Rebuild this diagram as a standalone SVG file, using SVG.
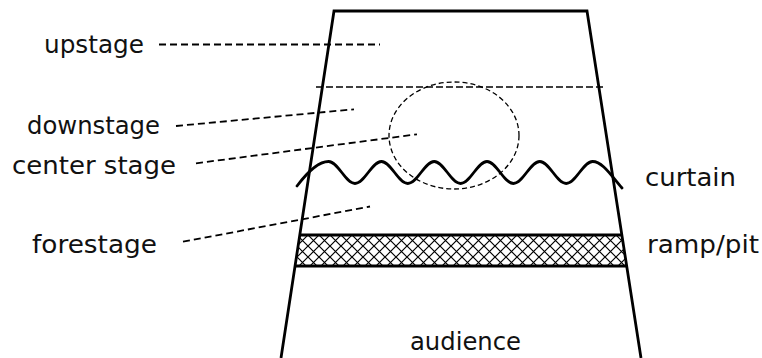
<svg xmlns="http://www.w3.org/2000/svg" width="762" height="358" viewBox="0 0 762 358">
<style>
.outline{fill:none;stroke:#000;stroke-width:2.8;stroke-linejoin:miter}
.band{stroke:#000;stroke-width:2.8}
.lead{fill:none;stroke:#000;stroke-width:1.8;stroke-dasharray:7,4}
.thin{fill:none;stroke:#000;stroke-width:1.3;stroke-dasharray:7,3}
.ell{fill:none;stroke:#000;stroke-width:1.3;stroke-dasharray:5,3}
.wave{fill:none;stroke:#000;stroke-width:2.8;stroke-linecap:round}
.lbl{font-family:"DejaVu Sans",sans-serif;font-size:24px;fill:#111}
</style>
<defs>
<pattern id="hatch" patternUnits="userSpaceOnUse" width="11" height="11" x="0" y="235">
<path d="M0,0 L11,11 M11,0 L0,11" stroke="#000" stroke-width="1.2"/>
</pattern>
</defs>
<rect width="762" height="358" fill="#fff"/>
<g id="stage">
<path class="outline" d="M281,358 L334,11 L587,11 L641,358"/>
</g>
<g id="ramp-pit">
<polygon points="299.8,235 621.8,235 626.7,266 295.1,266" fill="url(#hatch)"/>
<line class="band" x1="299.8" y1="235" x2="621.8" y2="235"/>
<line class="band" x1="295.1" y1="266" x2="626.7" y2="266"/>
</g>
<g id="divider">
<line class="thin" x1="316" y1="87" x2="604" y2="87"/>
</g>
<g id="center-area">
<ellipse class="ell" cx="454" cy="135.5" rx="65" ry="53.5"/>
</g>
<g id="curtain">
<path class="wave" d="M297,186 C306,174 318,161.5 328.6,161.5 C338.2,161.5 345.4,183.5 355,183.5 C364.6,183.5 371.8,161.5 381.4,161.5 C391,161.5 398.2,183.5 407.8,183.5 C417.4,183.5 424.6,161.5 434.2,161.5 C443.8,161.5 451,183.5 460.6,183.5 C470.2,183.5 477.4,161.5 487,161.5 C496.6,161.5 503.8,183.5 513.4,183.5 C523,183.5 530.2,161.5 539.8,161.5 C549.4,161.5 556.6,183.5 566.2,183.5 C575.8,183.5 583,161.5 592.6,161.5 C603,161.5 612,177 622,188"/>
</g>
<g id="connectors">
<line class="lead" x1="159" y1="44.5" x2="380" y2="44.5"/>
<line class="lead" x1="176" y1="126" x2="354" y2="109.3"/>
<line class="lead" x1="196" y1="163.3" x2="417" y2="134.3"/>
<line class="lead" x1="183" y1="241.7" x2="370" y2="206.5"/>
</g>
<g id="labels">
<text id="upstage" class="lbl" x="44" y="53" textLength="100" lengthAdjust="spacingAndGlyphs">upstage</text>
<text id="downstage" class="lbl" x="27" y="134" textLength="133" lengthAdjust="spacingAndGlyphs">downstage</text>
<text id="centerstage" class="lbl" x="12" y="174" textLength="164" lengthAdjust="spacingAndGlyphs">center stage</text>
<text id="forestage" class="lbl" x="32" y="253" textLength="125" lengthAdjust="spacingAndGlyphs">forestage</text>
<text id="curtain-label" class="lbl" x="645" y="186" textLength="91" lengthAdjust="spacingAndGlyphs">curtain</text>
<text id="ramp-label" class="lbl" x="647" y="253" textLength="112" lengthAdjust="spacingAndGlyphs">ramp/pit</text>
<text id="audience" class="lbl" x="410" y="350" textLength="111" lengthAdjust="spacingAndGlyphs">audience</text>
</g>
</svg>
